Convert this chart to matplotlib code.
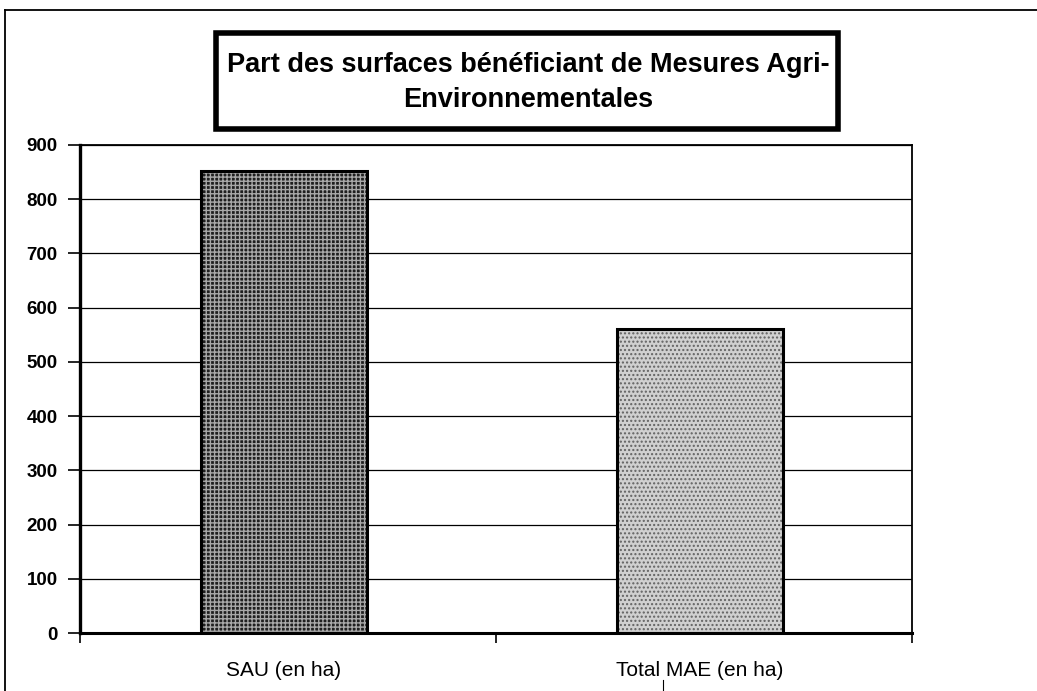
import matplotlib
matplotlib.use("Agg")
import matplotlib.pyplot as plt
from matplotlib.patches import Rectangle
from matplotlib.lines import Line2D

plt.rcParams['font.family'] = ['Liberation Sans', 'DejaVu Sans']

categories = ["SAU (en ha)", "Total MAE (en ha)"]
values = [852, 561]
yticks = [0, 100, 200, 300, 400, 500, 600, 700, 800, 900]
title_lines = ["Part des surfaces bénéficiant de Mesures Agri-", "Environnementales"]

W, H = 1037, 691
fig = plt.figure(figsize=(W / 100, H / 100), dpi=100)
fig.patch.set_facecolor("white")

def fx(px):
    return px / W

def fy(py):
    return 1 - py / H

# outer chart-area frame (left and top edges)
fig.add_artist(Line2D([fx(5), fx(5)], [0.0, fy(10)], color="black", lw=1.3, transform=fig.transFigure))
fig.add_artist(Line2D([fx(5), 1.0], [fy(10), fy(10)], color="black", lw=1.3, transform=fig.transFigure))
fig.add_artist(Line2D([fx(663), fx(663)], [0.0, fy(680)], color="black", lw=0.8, transform=fig.transFigure))

ax = fig.add_axes([fx(80), fy(633), fx(912) - fx(80), fy(145) - fy(633)])
ax.set_xlim(0, 2)
ax.set_ylim(0, 900)
ax.set_yticks(yticks)
ax.set_yticklabels([str(t) for t in yticks], fontsize=13.5, fontweight="semibold")
ax.yaxis.grid(True, color="black", lw=0.9)
ax.set_axisbelow(True)

x = [i + 0.49 for i in range(len(categories))]
width = 0.40
faces = ["#1f1f1f", "#d0d0d0"]
hatch_cols = ["#a8a8a8", "#626262"]
hatches = ["++++", "...."]
for xi, v, fc, hc, h in zip(x, values, faces, hatch_cols, hatches):
    ax.bar(xi, v, width=width, color=fc, edgecolor=hc, hatch=h, linewidth=0, zorder=2)
    ax.bar(xi, v, width=width, fill=False, edgecolor="black", linewidth=2.2, zorder=3)

ax.set_xticks([0, 1, 2])
ax.set_xticklabels([])
ax.set_xticks(x, minor=True)
ax.set_xticklabels(categories, minor=True, fontsize=15)
ax.tick_params(axis="x", which="minor", length=0, pad=20)
ax.tick_params(axis="x", which="major", direction="out", length=7, width=1.2)
ax.tick_params(axis="y", direction="out", length=9, width=1.2, pad=7)
for s in ax.spines.values():
    s.set_color("black")
    s.set_linewidth(1.3)
ax.spines["left"].set_linewidth(2.4)
ax.spines["bottom"].set_linewidth(2.2)

# title box
fig.add_artist(Rectangle((fx(216), fy(129)), fx(838) - fx(216), fy(33) - fy(129),
                         transform=fig.transFigure, facecolor="white", edgecolor="black",
                         linewidth=4, zorder=5))
for line, base in zip(title_lines, [72, 107]):
    fig.text(fx(528), fy(base), line, ha="center", va="baseline", fontsize=19.5,
             fontweight="bold", zorder=6)

fig.savefig("out.png", dpi=100, facecolor="white")
